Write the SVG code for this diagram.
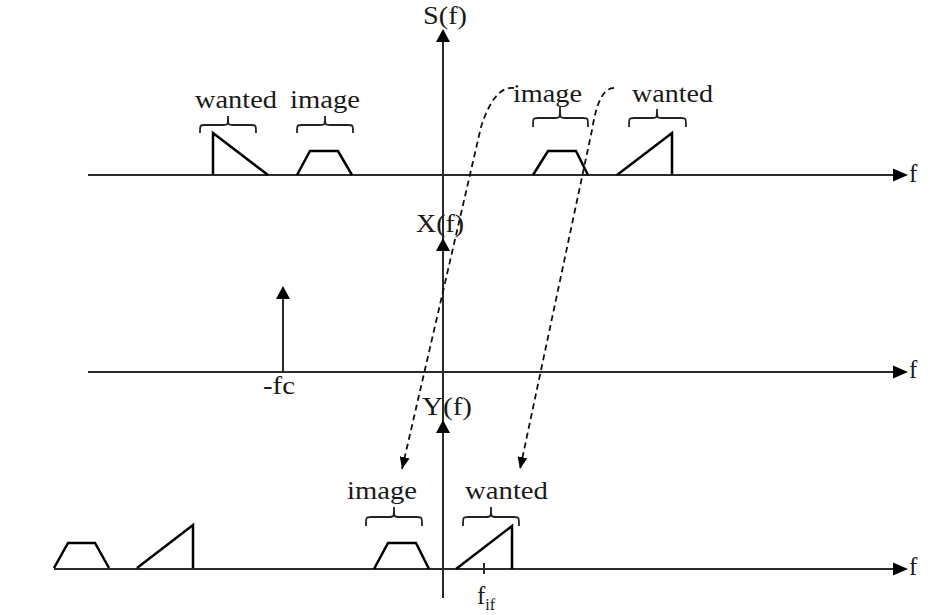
<svg xmlns="http://www.w3.org/2000/svg" width="946" height="615" viewBox="0 0 946 615" font-family="'Liberation Serif', 'Times New Roman', serif">
<style>
.bg{fill:#fff}
.axis{stroke:#2a2a2a;stroke-width:2;fill:none}
.shape{stroke:#000;stroke-width:2.5;fill:none;stroke-linejoin:miter}
.brace{stroke:#222;stroke-width:1.8;fill:none}
.dash{stroke:#111;stroke-width:1.8;fill:none;stroke-dasharray:6 4}
.ah{fill:#000}
.lbl{font-family:'Liberation Serif','Times New Roman',serif;font-size:25px;fill:#1a1a1a}
.sub{font-size:16px}
</style>
<defs>
<path id="ah-up" d="M0,0 L-7,13 L7,13 Z"/>
<path id="ah-right" d="M0,0 L-15,-6.5 L-15,6.5 Z"/>
<marker id="dh" viewBox="0 0 12 10" refX="12" refY="5" markerWidth="12" markerHeight="10" markerUnits="userSpaceOnUse" orient="auto">
<path d="M0,0 L12,5 L0,10 Z" fill="#000"/>
</marker>
</defs>
<rect class="bg" x="0" y="0" width="946" height="615"/>

<g id="axes">
<line class="axis" x1="443" y1="35" x2="443" y2="598"/>
<use href="#ah-up" x="443" y="29" class="ah"/>
<use href="#ah-up" x="443" y="238" class="ah"/>
<use href="#ah-up" x="443" y="420" class="ah"/>
<line class="axis" x1="88" y1="175" x2="896" y2="175"/>
<use href="#ah-right" x="908" y="175" class="ah"/>
<line class="axis" x1="88" y1="372" x2="896" y2="372"/>
<use href="#ah-right" x="908" y="372" class="ah"/>
<line class="axis" x1="54" y1="569" x2="896" y2="569"/>
<use href="#ah-right" x="908" y="569" class="ah"/>
<text class="lbl" x="909" y="182">f</text>
<text class="lbl" x="909" y="378">f</text>
<text class="lbl" x="909" y="575">f</text>
<text class="lbl" x="423" y="24" textLength="44" lengthAdjust="spacingAndGlyphs">S(f)</text>
<text class="lbl" x="416" y="232" textLength="48" lengthAdjust="spacingAndGlyphs">X(f)</text>
<text class="lbl" x="422" y="415" textLength="50" lengthAdjust="spacingAndGlyphs">Y(f)</text>
</g>

<g id="s-wanted-neg">
<polyline class="shape" points="213,175 213,133 268,175"/>
<path class="brace" d="M200,133 C200,125 200,125 205,125 L223,125 C228,125 228,125 228,116 C228,125 228,125 233,125 L251,125 C256,125 256,125 256,133"/>
<text class="lbl" x="195" y="108" textLength="82" lengthAdjust="spacingAndGlyphs">wanted</text>
</g>

<g id="s-image-neg">
<polyline class="shape" points="297,175 310,151 338,151 352,175"/>
<path class="brace" d="M297,133 C297,125 297,125 302,125 L320,125 C325,125 325,125 325,116 C325,125 325,125 330,125 L348,125 C353,125 353,125 353,133"/>
<text class="lbl" x="290" y="108" textLength="70" lengthAdjust="spacingAndGlyphs">image</text>
</g>

<g id="s-image-pos">
<polyline class="shape" points="533,175 548,151 576,151 588,175"/>
<path class="brace" d="M533,127 C533,118 533,118 538,118 L555,118 C560,118 560,118 560,107 C560,118 560,118 565,118 L583,118 C588,118 588,118 588,127"/>
<text class="lbl" x="513" y="102" textLength="69" lengthAdjust="spacingAndGlyphs">image</text>
</g>

<g id="s-wanted-pos">
<polyline class="shape" points="617,175 672,133 672,175"/>
<path class="brace" d="M629,127 C629,118 629,118 634,118 L652,118 C657,118 657,118 657,109 C657,118 657,118 662,118 L681,118 C686,118 686,118 686,127"/>
<text class="lbl" x="632" y="102" textLength="81" lengthAdjust="spacingAndGlyphs">wanted</text>
</g>

<g id="x-carrier">
<line class="axis" x1="283" y1="372" x2="283" y2="298"/>
<use href="#ah-up" x="283" y="286" class="ah"/>
<text class="lbl" x="263" y="394" textLength="32" lengthAdjust="spacingAndGlyphs">-fc</text>
</g>

<g id="y-far-image">
<polyline class="shape" points="54,568 68,543 95,543 109,568"/>
</g>

<g id="y-far-wanted">
<polyline class="shape" points="137,568 193,525 193,568"/>
</g>

<g id="y-image">
<polyline class="shape" points="374,569 388,543 416,543 429,569"/>
<path class="brace" d="M366,526 C366,517 366,517 371,517 L389,517 C394,517 394,517 394,507 C394,517 394,517 399,517 L417,517 C422,517 422,517 422,526"/>
<text class="lbl" x="347" y="499" textLength="70" lengthAdjust="spacingAndGlyphs">image</text>
</g>

<g id="y-wanted">
<polyline class="shape" points="456,569 512,526 512,569"/>
<line class="axis" x1="484" y1="563" x2="484" y2="574" stroke-width="1.5"/>
<path class="brace" d="M463,526 C463,517 463,517 468,517 L486,517 C491,517 491,517 491,507 C491,517 491,517 496,517 L514,517 C519,517 519,517 519,526"/>
<text class="lbl" x="477" y="604">f<tspan class="sub" dy="6">if</tspan></text>
<text class="lbl" x="465" y="499" textLength="83" lengthAdjust="spacingAndGlyphs">wanted</text>
</g>

<g id="connectors">
<path class="dash" d="M514,88 C500,86 489,102 481,127 L402,469" marker-end="url(#dh)"/>
<path class="dash" d="M614,88 C602,88 596,106 592,130 L520,469" marker-end="url(#dh)"/>
</g>
</svg>
